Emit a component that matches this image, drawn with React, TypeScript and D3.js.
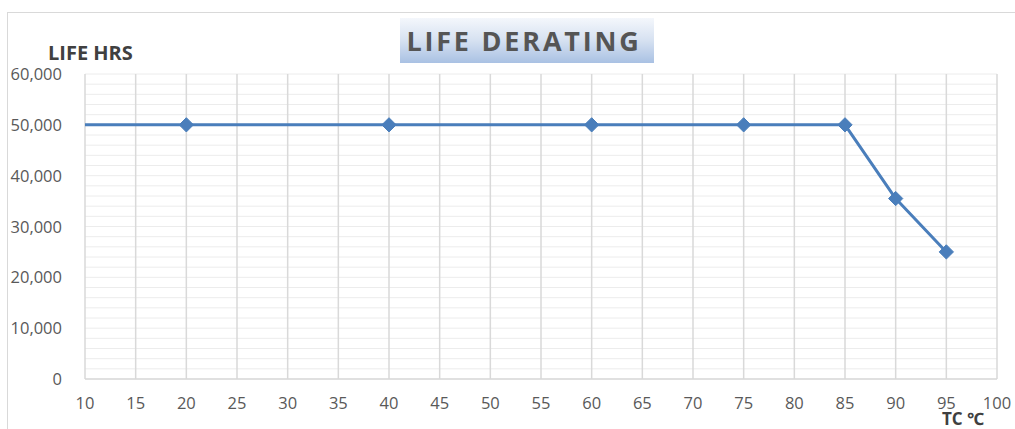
import React from "react";
import * as d3 from "d3";

const temps = [10, 20, 40, 60, 75, 85, 90, 95];
const lifeHours = [50000, 50000, 50000, 50000, 50000, 50000, 35500, 25000];
const markerShown = [false, true, true, true, true, true, true, true];
const xTicks = [10, 15, 20, 25, 30, 35, 40, 45, 50, 55, 60, 65, 70, 75, 80, 85, 90, 95, 100];
const yTicks = [0, 10000, 20000, 30000, 40000, 50000, 60000];
const yMinorTicks = d3.range(0, 60001, 2000);

const W = 1015, H = 429;
const left = 85, right = 997, top = 74, bottom = 379;

export default function App() {
  const x = d3.scaleLinear().domain([10, 100]).range([left, right]);
  const y = d3.scaleLinear().domain([0, 60000]).range([bottom, top]);
  const line = d3.line<number>().x((_, i) => x(temps[i])).y((d) => y(d));
  const fmt = d3.format(",");
  const diamond = d3.symbol().type(d3.symbolDiamond2).size(130)();
  return (
    <svg width={W} height={H} style={{ position: "absolute", left: 0, top: 0, fontFamily: "'Open Sans', 'Noto Sans', sans-serif" }}>
      <defs>
        <linearGradient id="tg" x1="0" y1="0" x2="0" y2="1">
          <stop offset="0" stopColor="#f4f7fc" />
          <stop offset="0.5" stopColor="#d6e1f1" />
          <stop offset="1" stopColor="#a9c1e3" />
        </linearGradient>
      </defs>
      <rect x={0} y={0} width={W} height={H} fill="#fff" />
      <rect x={7.5} y={12.5} width={1020} height={430} fill="none" stroke="#d9d9d9" />
      {yMinorTicks.map((t) => (
        <line key={"m" + t} x1={left} x2={right} y1={y(t)} y2={y(t)} stroke="#ececec" strokeWidth={1} />
      ))}
      {xTicks.map((t) => (
        <line key={"v" + t} x1={x(t)} x2={x(t)} y1={top} y2={bottom} stroke="#d9d9d9" strokeWidth={1.5} />
      ))}
      <line x1={left} x2={right} y1={bottom} y2={bottom} stroke="#d9d9d9" strokeWidth={1.5} />
      {yTicks.map((t) => (
        <text key={"y" + t} x={62} y={y(t) + 6} textAnchor="end" fontSize={16.5} fill="#595959">{fmt(t)}</text>
      ))}
      {xTicks.map((t) => (
        <text key={"x" + t} x={x(t)} y={409} textAnchor="middle" fontSize={16.5} fill="#595959">{t}</text>
      ))}
      <path d={line(lifeHours) || ""} fill="none" stroke="#4a7ebb" strokeWidth={3} strokeLinejoin="round" />
      {lifeHours.map((v, i) => markerShown[i] ? (
        <path key={"p" + i} d={diamond || ""} transform={`translate(${x(temps[i])},${y(v)})`} fill="#4a7ebb" stroke="#4a7ebb" />
      ) : null)}
      <rect x={400} y={18} width={254} height={45} fill="url(#tg)" />
      <text x={524} y={51} textAnchor="middle" fontSize={27} fontWeight="bold" fill="#555" letterSpacing={2.8}>LIFE DERATING</text>
      <text x={48} y={60} fontSize={20} fontWeight="bold" fill="#404040">LIFE HRS</text>
      <text x={963} y={425} textAnchor="middle" fontSize={17} fontWeight="bold" fill="#404040">TC ℃</text>
    </svg>
  );
}
